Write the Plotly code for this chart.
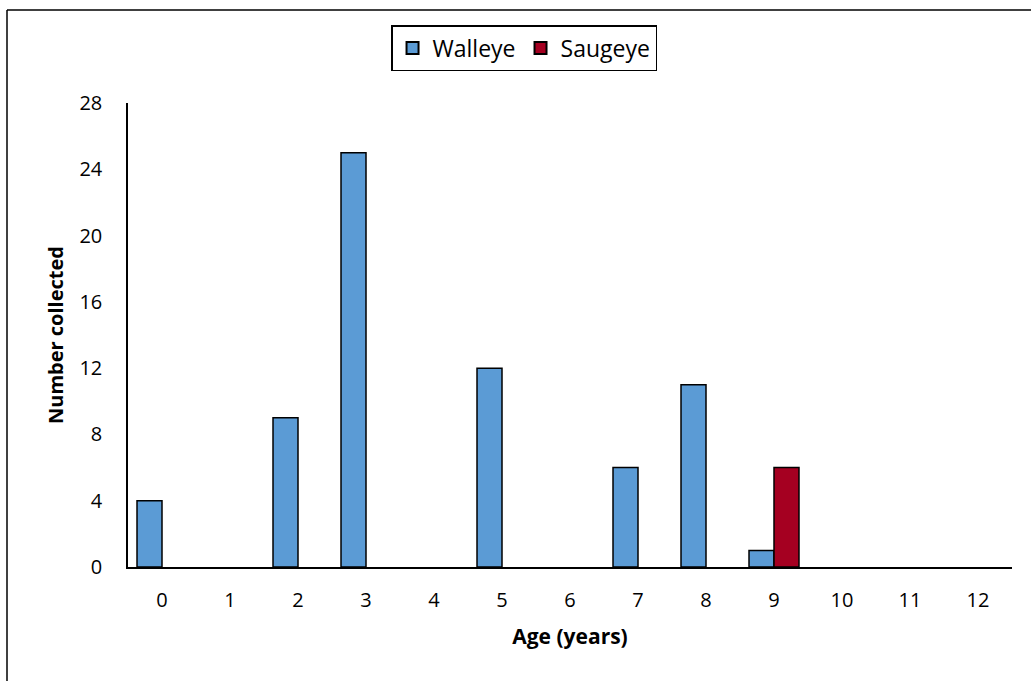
import plotly.graph_objects as go

ages = ["0", "1", "2", "3", "4", "5", "6", "7", "8", "9", "10", "11", "12"]
walleye = [4, 0, 9, 25, 0, 12, 0, 6, 11, 1, 0, 0, 0]
saugeye = [0, 0, 0, 0, 0, 0, 0, 0, 0, 6, 0, 0, 0]
y_ticks = [0, 4, 8, 12, 16, 20, 24, 28]

FONT = "'Open Sans', sans-serif"


def outline_widths(vals):
    return [1.5 if v > 0 else 0 for v in vals]


fig = go.Figure()
fig.add_trace(go.Bar(x=ages, y=walleye, name="Walleye",
                     marker=dict(color="#5B9BD5",
                                 line=dict(color="black", width=outline_widths(walleye)))))
fig.add_trace(go.Bar(x=ages, y=saugeye, name="Saugeye",
                     marker=dict(color="#A50021",
                                 line=dict(color="black", width=outline_widths(saugeye)))))

fig.update_layout(
    width=1031, height=681,
    margin=dict(l=128, r=19, t=103, b=114),
    paper_bgcolor="white", plot_bgcolor="white",
    barmode="group", bargap=0.265, bargroupgap=0,
    font=dict(family=FONT, size=20, color="black"),
    legend=dict(orientation="h", x=0.448, xanchor="center", y=1.168, yanchor="top",
                bordercolor="black", borderwidth=1.5, font=dict(size=23),
                itemsizing="constant", traceorder="normal"),
    xaxis=dict(type="category", showline=True, linecolor="black", linewidth=1.5,
               ticks="", showgrid=False, ticklabelstandoff=14,
               title=dict(text="<b>Age (years)</b>", font=dict(size=21), standoff=18)),
    yaxis=dict(range=[0, 28], tickvals=y_ticks, showline=True, linecolor="black", linewidth=1.5,
               ticks="", showgrid=False, zeroline=False, ticklabelstandoff=20,
               title=dict(text="<b>Number collected</b>", font=dict(size=20), standoff=10)),
    shapes=[
        dict(type="line", xref="paper", yref="paper",
             x0=(7 - 128) / 884, x1=(1040 - 128) / 884,
             y0=(567 - 10) / 464, y1=(567 - 10) / 464,
             line=dict(color="black", width=1.5)),
        dict(type="line", xref="paper", yref="paper",
             x0=(7 - 128) / 884, x1=(7 - 128) / 884,
             y0=(567 - 10) / 464, y1=(567 - 690) / 464,
             line=dict(color="black", width=1.5)),
    ],
)

fig.write_html("out.html")
